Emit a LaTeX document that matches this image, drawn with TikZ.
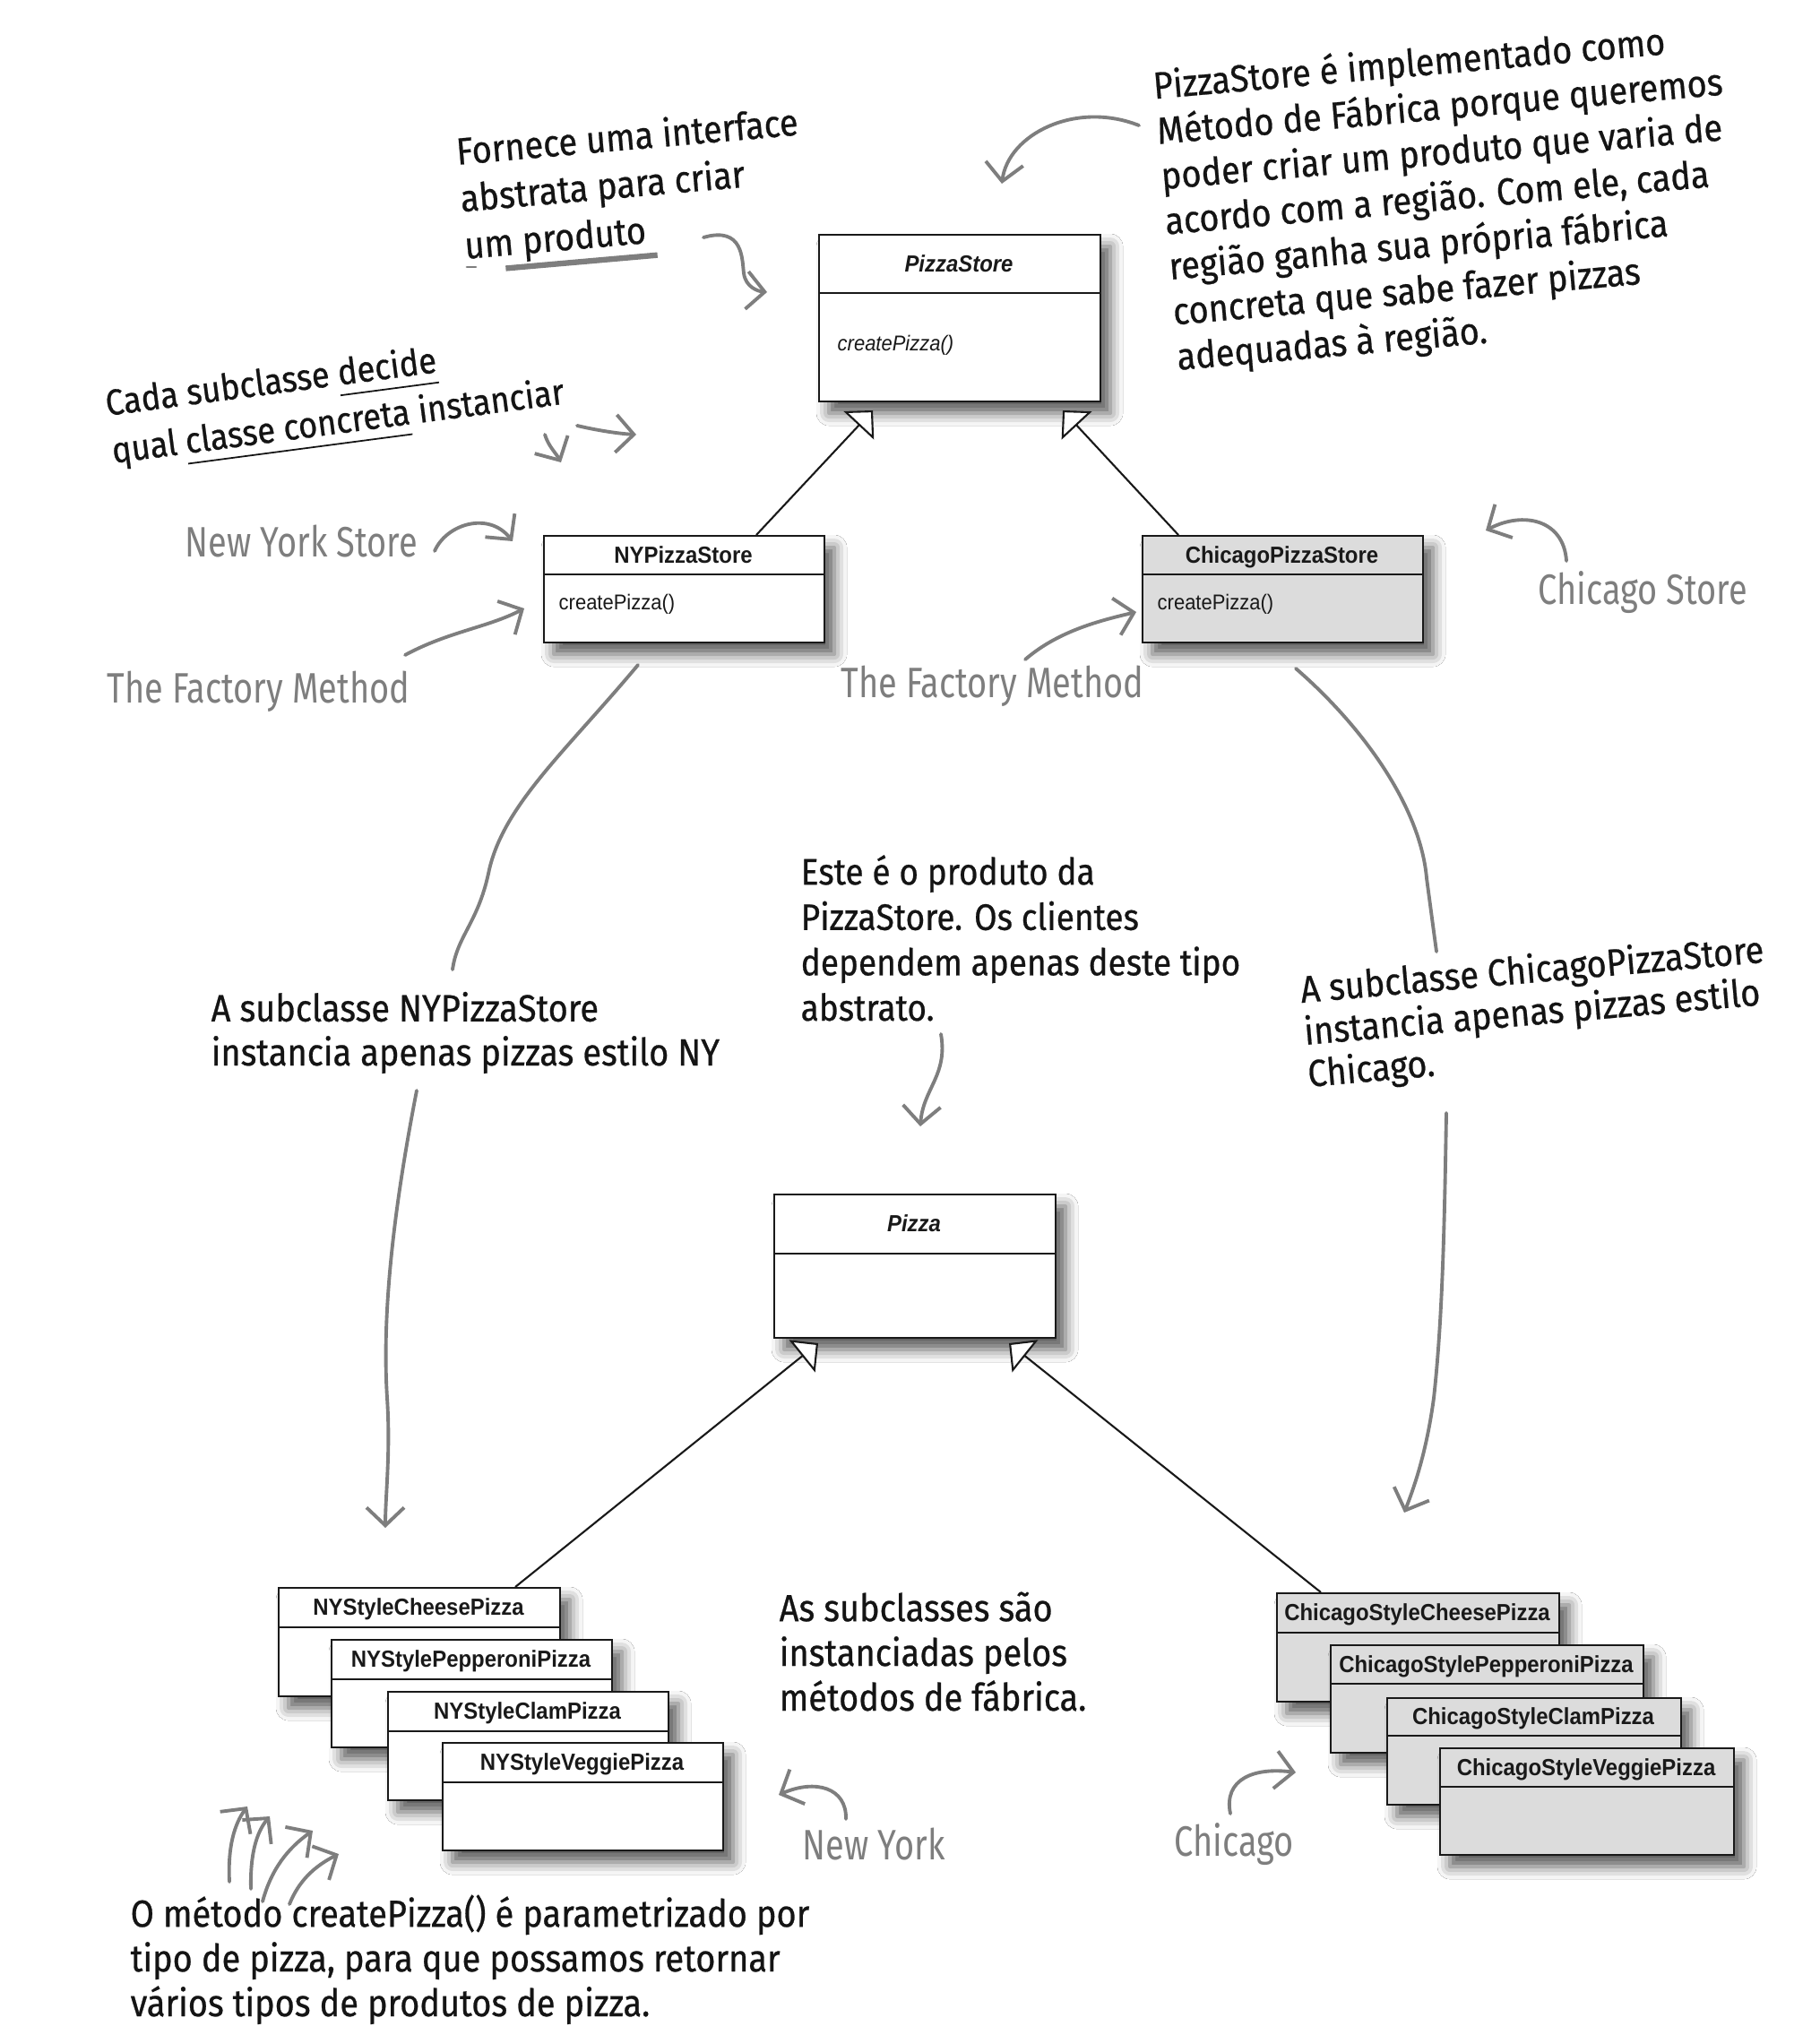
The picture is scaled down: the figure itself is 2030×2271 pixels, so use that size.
\documentclass[tikz,border=0pt]{standalone}
\usepackage{fontspec}
\setmainfont{Liberation Sans}
\newfontfamily\umlfont[FakeStretch=0.92]{Liberation Sans}
\newfontfamily\handfont[FakeStretch=0.9, FakeBold=0.6]{Fira Sans}
\newfontfamily\pencilfont[FakeStretch=0.8]{Fira Sans}
\usetikzlibrary{arrows.meta,shadows.blur,calc}
\definecolor{ink}{HTML}{141414}
\definecolor{pencil}{HTML}{7E7E7E}
\definecolor{chigray}{HTML}{DCDCDC}
\newcommand\inkline[1]{\setbox0\hbox{#1}\rlap{\raisebox{-3.5pt}{\rule{\wd0}{0.5pt}}}\box0\relax}
\newcommand\brushline[1]{\setbox0\hbox{#1}\rlap{\hspace*{-6pt}\textcolor{pencil}{\raisebox{-5pt}{\rule{\dimexpr\wd0+9pt\relax}{1.8pt}}}}\box0\relax}
\tikzset{
  umlrect/.style={draw=black!90, line width=0.6pt, inner sep=0pt,
    blur shadow={shadow xshift=1.1mm, shadow yshift=-1.3mm, shadow blur radius=1.4mm, shadow opacity=65}},
  umldiv/.style={draw=black!90, line width=0.6pt},
  umltitle/.style={font=\umlfont\bfseries\fontsize{7.4}{8}\selectfont, inner sep=0pt, text=black!90, text height=5.3pt, text depth=0pt},
  umlmethod/.style={font=\umlfont\fontsize{6.8}{8}\selectfont, inner sep=0pt, anchor=base west, text=black!90},
  inherit/.style={draw=black!90, line width=0.6pt, -{Triangle[fill=white, length=2.3mm, width=4.6mm, line width=0.6pt]}},
  hand/.style={font=\handfont\fontsize{12}{14.2}\selectfont, text=ink, align=left, inner sep=0pt, anchor=base west},
  pencillabel/.style={font=\pencilfont\fontsize{13.5}{16}\selectfont, text=pencil, inner sep=0pt, anchor=base west},
  pencilarrow/.style={draw=pencil, line width=1.1pt, line cap=round, -{Straight Barb[length=2mm, width=4.2mm, line width=1.1pt]}},
  pencilline/.style={draw=pencil, line width=1.1pt, line cap=round},
}
\newcommand\umlclass[8]{%
  \pgfmathsetmacro\bw{(#4-#2)/10}%
  \pgfmathsetmacro\bh{(#5-#3)/10}%
  \node[umlrect, fill=#7, minimum width=\bw mm, minimum height=\bh mm, anchor=north west] (#1) at (#2,#3) {};
  \draw[umldiv] (#2,#6) -- (#4,#6);
  \node[umltitle] (#1-title) at ({(#2+#4)/2},{(#3+#6)/2}) {#8};
}
\begin{document}
\begin{tikzpicture}[x=0.1mm, y=-0.1mm]
\fill[white] (0,0) rectangle (2030,2271);
\useasboundingbox (0,0) rectangle (2030,2271);

% ---------- UML classes ----------
\umlclass{ps}{913}{261}{1227}{447}{327}{white}{\itshape PizzaStore}
\node[umlmethod] (ps-m) at (934,392) {\itshape createPizza()};

\umlclass{ny}{606}{597}{919}{716}{641}{white}{NYPizzaStore}
\node[umlmethod] (ny-m) at (623,681) {createPizza()};

\umlclass{chi}{1274}{597}{1587}{716}{641}{chigray}{ChicagoPizzaStore}
\node[umlmethod] (chi-m) at (1291,681) {createPizza()};

\umlclass{pz}{863}{1332}{1177}{1492}{1399}{white}{\itshape Pizza}

\umlclass{nyc}{310}{1771}{624}{1892}{1816}{white}{NYStyleCheesePizza}
\umlclass{nyp}{369}{1829}{682}{1949}{1874}{white}{NYStylePepperoniPizza}
\umlclass{nyl}{432}{1887}{745}{2008}{1932}{white}{NYStyleClamPizza}
\umlclass{nyv}{493}{1944}{806}{2064}{1989}{white}{NYStyleVeggiePizza}

\umlclass{chc}{1424}{1777}{1739}{1898}{1822}{chigray}{ChicagoStyleCheesePizza}
\umlclass{chp}{1484}{1835}{1833}{1955}{1879}{chigray}{ChicagoStylePepperoniPizza}
\umlclass{chl}{1547}{1894}{1875}{2013}{1937}{chigray}{ChicagoStyleClamPizza}
\umlclass{chv}{1606}{1950}{1934}{2069}{1994}{chigray}{ChicagoStyleVeggiePizza}

% ---------- inheritance ----------
\coordinate (ps-l) at (974,458);
\coordinate (ps-r) at (1186,458);
\coordinate (pz-l) at (913,1499);
\coordinate (pz-r) at (1126,1499);
\draw[inherit] ($(ny.north west)+(238,0)$) -- (ps-l);
\draw[inherit] ($(chi.north west)+(41,0)$) -- (ps-r);
\draw[inherit] ($(nyc.north west)+(265,0)$) -- (pz-l);
\draw[inherit] ($(chc.north west)+(50,0)$) -- (pz-r);

% ---------- handwritten notes (anchored at the baseline of the last line) ----------
\node[hand, rotate=5, font=\handfont\fontsize{12}{14.4}\selectfont] (t-top) at (1314,413)
 {PizzaStore é implementado como\\Método de Fábrica porque queremos\\poder criar um produto que varia de\\acordo com a região. Com ele, cada\\região ganha sua própria fábrica\\concreta que sabe fazer pizzas\\adequadas à região.};

\node[hand, rotate=5, font=\handfont\fontsize{12}{15}\selectfont] (t-forn) at (519,289)
 {Fornece uma interface\\abstrata para criar\\um \brushline{produto}};

\node[hand, rotate=7.5, font=\handfont\fontsize{11.5}{15.2}\selectfont] (t-cada) at (126,517)
 {Cada subclasse \inkline{decide}\\qual \inkline{classe concreta} instanciar};

\node[hand, font=\handfont\fontsize{12}{14}\selectfont] (t-nysub) at (235,1189)
 {A subclasse NYPizzaStore\\instancia apenas pizzas estilo NY};

\node[hand, font=\handfont\fontsize{11.7}{14.4}\selectfont] (t-este) at (893,1139)
 {Este é o produto da\\PizzaStore. Os clientes\\dependem apenas deste tipo\\abstrato.};

\node[hand, rotate=5, font=\handfont\fontsize{12}{13.4}\selectfont] (t-chisub) at (1460,1213)
 {A subclasse ChicagoPizzaStore\\instancia apenas pizzas estilo\\Chicago.};

\node[hand] (t-as) at (869,1909)
 {As subclasses são\\instanciadas pelos\\métodos de fábrica.};

\node[hand] (t-bot) at (145,2250)
 {O método createPizza() é parametrizado por\\tipo de pizza, para que possamos retornar\\vários tipos de produtos de pizza.};

% ---------- pencil labels ----------
\node[pencillabel] (l-nystore) at (206,622) {New York Store};
\node[pencillabel] (l-fm1) at (119,785) {The Factory Method};
\node[pencillabel] (l-fm2) at (938,779) {The Factory Method};
\node[pencillabel] (l-chistore) at (1716,675) {Chicago Store};
\node[pencillabel] (l-ny) at (895,2075) {New York};
\node[pencillabel] (l-chi) at (1310,2071) {Chicago};

% ---------- pencil arrows ----------
\draw[pencilarrow] (1271,140) .. controls (1200,112) and (1125,150) .. (1118,205);
\draw[pencilarrow] (785,265) .. controls (830,252) and (828,290) .. (830,305) .. controls (832,320) and (845,325) .. (856,326);
\draw[pencil, line width=0.8pt, line cap=round] (521,298) -- (531,298);
\draw[pencilarrow] (608,485) .. controls (612,498) and (620,505) .. (626,516);
\draw[pencilarrow] (644,475) .. controls (665,480) and (690,484) .. (710,485);
\draw[pencilarrow] (485,615) .. controls (498,585) and (545,570) .. (572,604);
\draw[pencilarrow] (452,731) .. controls (500,705) and (545,700) .. (585,679);
\draw[pencilarrow] (1144,736) .. controls (1180,705) and (1225,693) .. (1268,683);
\draw[pencilarrow] (1748,626) .. controls (1745,580) and (1700,570) .. (1658,592);

\draw[pencilline] (712,742) .. controls (630,840) and (560,900) .. (545,975) .. controls (533,1030) and (510,1045) .. (505,1082);
\draw[pencilarrow] (465,1217) .. controls (445,1320) and (425,1450) .. (432,1560) .. controls (436,1620) and (430,1670) .. (430,1705);

\draw[pencilline] (1446,746) .. controls (1520,810) and (1585,900) .. (1592,980) .. controls (1596,1010) and (1600,1040) .. (1603,1062);
\draw[pencilarrow] (1614,1242) .. controls (1612,1360) and (1610,1470) .. (1600,1560) .. controls (1592,1620) and (1578,1660) .. (1567,1688);

\draw[pencilarrow] (1050,1154) .. controls (1058,1200) and (1030,1215) .. (1027,1257);

\draw[pencilarrow] (944,2030) .. controls (945,1995) and (910,1985) .. (869,2003);
\draw[pencilarrow] (1373,2024) .. controls (1365,1985) and (1400,1972) .. (1446,1978);

\draw[pencilarrow] (256,2100) .. controls (254,2060) and (262,2035) .. (276,2016);
\draw[pencilarrow] (280,2108) .. controls (279,2070) and (286,2045) .. (301,2027);
\draw[pencilarrow] (293,2122) .. controls (303,2085) and (322,2062) .. (349,2043);
\draw[pencilarrow] (323,2125) .. controls (333,2100) and (350,2083) .. (378,2069);
\end{tikzpicture}
\end{document}
